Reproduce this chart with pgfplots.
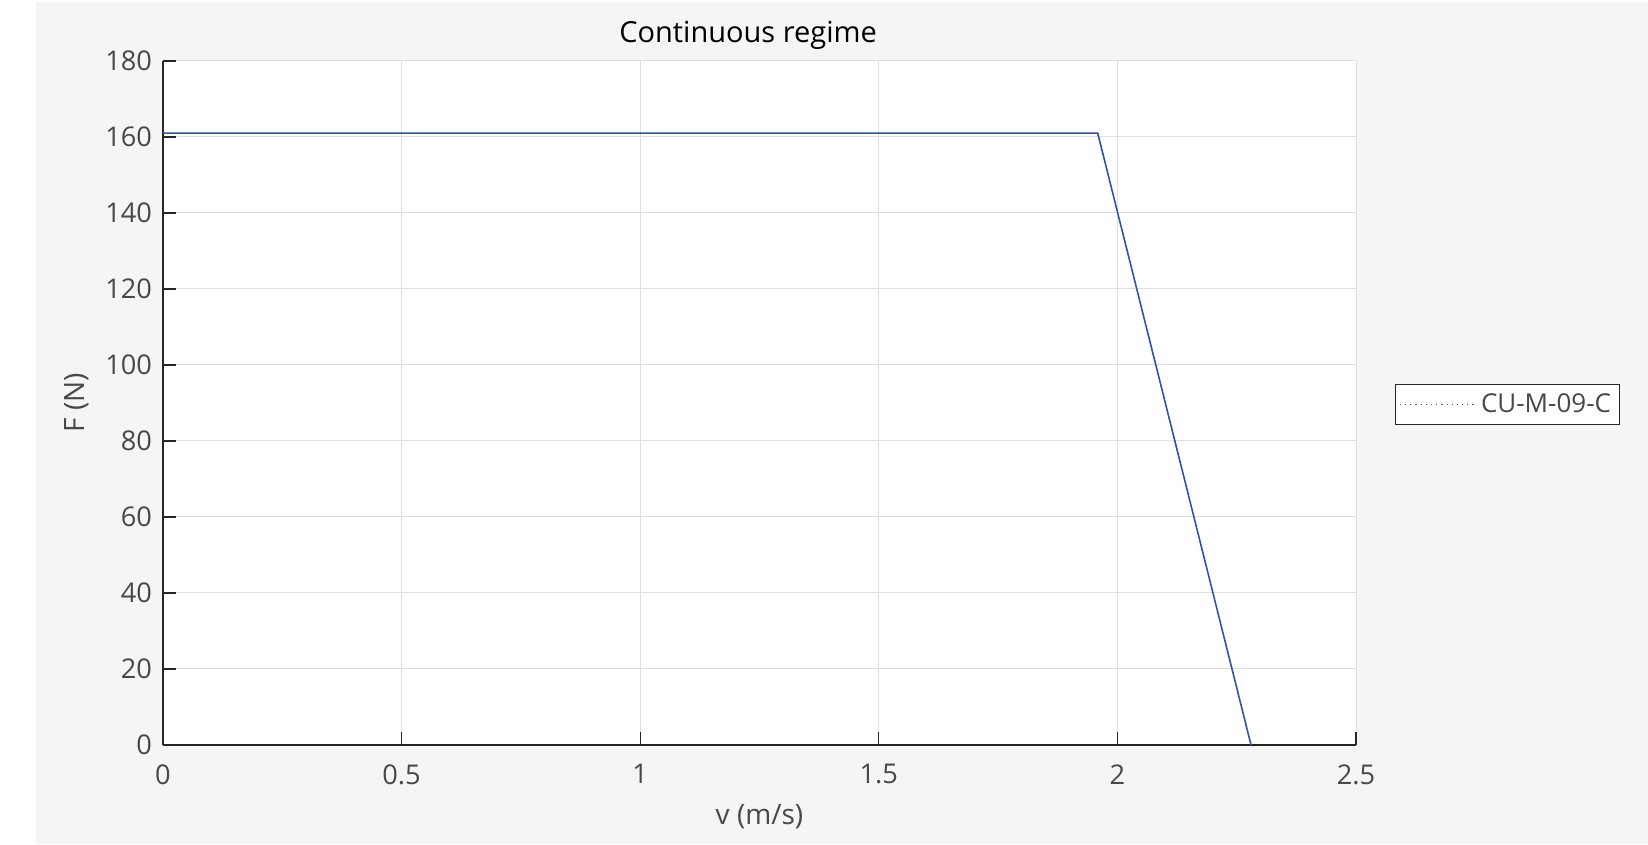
\documentclass[border=0pt]{standalone}
\usepackage{fontspec}
\setmainfont{Open Sans}
\usepackage{pgfplots}
\pgfplotsset{compat=1.18}
\definecolor{bgc}{RGB}{245,245,245}
\definecolor{txt}{RGB}{72,72,72}
\definecolor{axc}{RGB}{38,38,38}
\definecolor{gridc}{RGB}{222,222,222}
\definecolor{linec}{RGB}{50,83,160}
\begin{document}
\begin{tikzpicture}[x=0.5bp,y=0.5bp]
\useasboundingbox (0,0) rectangle (1648,844);
\fill[bgc] (36,0) rectangle (1648,842);
\begin{axis}[
  at={(163*0.5bp,99*0.5bp)}, anchor=south west,
  scale only axis, width=596.5bp, height=342bp,
  xmin=0, xmax=2.5, ymin=0, ymax=180,
  xtick={0,0.5,...,2.5}, ytick={0,20,...,180},
  xticklabels={0,0.5,1,1.5,2,2.5},
  axis x line*=bottom, axis y line*=left,
  axis line style={axc, line width=0.6pt, -},
  tick style={axc, line width=0.6pt},
  major tick length=6.5bp, tick align=inside,
  grid=major, major grid style={gridc, line width=0.5pt},
  axis background/.style={fill=white},
  /pgf/number format/assume math mode=true,
  tick label style={font=\fontsize{13.6bp}{16bp}\selectfont, text=txt},
  yticklabel style={xshift=-2bp},
  xticklabel style={yshift=-6.2bp},
  title={Continuous regime},
  title style={at={(axis description cs:0.4904,1.020)}, anchor=center, font=\fontsize{14.5bp}{17bp}\selectfont, text=black},
  xlabel={v (m/s)},
  xlabel style={at={(axis description cs:0.5,-0.105)}, anchor=center, font=\fontsize{14bp}{16bp}\selectfont, text=txt},
  ylabel={F (N)},
  ylabel style={at={(axis description cs:-0.072,0.5)}, anchor=center, rotate=0, font=\fontsize{14bp}{16bp}\selectfont, text=txt},
  clip=false,
  legend style={at={(axis description cs:1.0325,0.4978)}, anchor=west, draw=axc, fill=white, line width=0.5pt,
    font=\fontsize{13bp}{15bp}\selectfont, text=txt, inner xsep=2bp, inner ysep=2.5bp},
  legend cell align=left,
  legend image code/.code={\draw[linec, dotted, line width=0.6pt] (0cm,0cm) -- (1.35cm,0cm);},
]
\addplot[linec, line width=0.8pt] coordinates {(0,161) (1.9587,161) (2.280,0)};
\addlegendentry{CU-M-09-C}
\end{axis}
\end{tikzpicture}
\end{document}
